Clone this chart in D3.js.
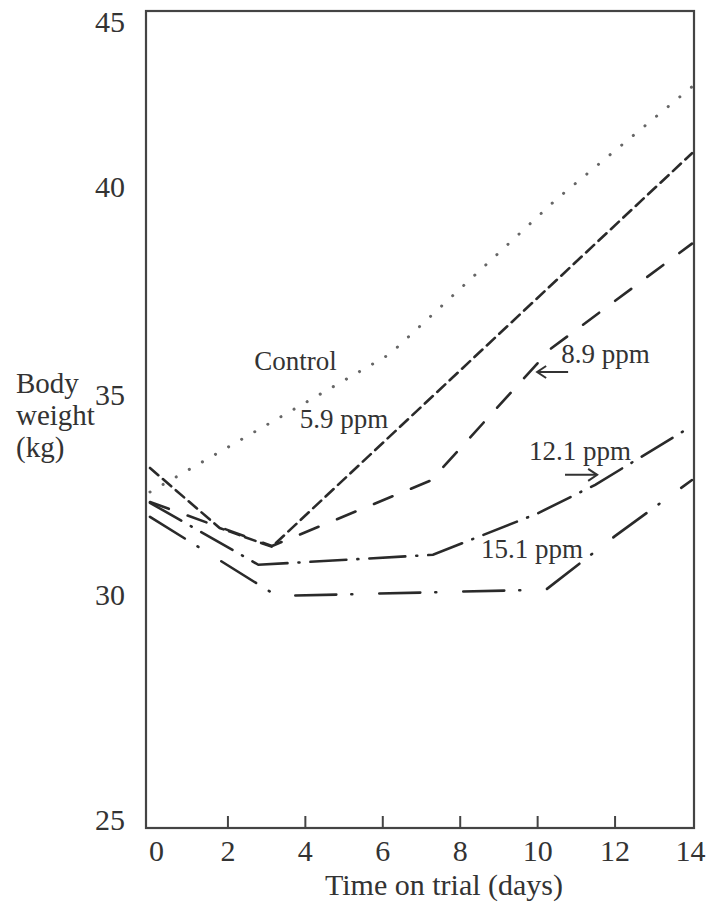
<!DOCTYPE html>
<html>
<head>
<meta charset="utf-8">
<script src="https://cdn.jsdelivr.net/npm/d3@7"></script>
<style>
  body { margin: 0; background: #fff; }
  svg { display: block; }
  text { font-family: "Liberation Serif", "Times New Roman", serif; fill: #333; }
</style>
</head>
<body>
<svg width="711" height="905"></svg>
<script>
// values
var xTicks = [0, 2, 4, 6, 8, 10, 12, 14];
var yTicks = [25, 30, 35, 40, 45];

var controlDays = [0, 6.2, 10.5, 14];
var controlKg   = [33.0, 36.45, 40.32, 43.13];

var ppm59Days = [0, 1.8, 3.15, 14];
var ppm59Kg   = [33.6, 32.1, 31.63, 41.47];

var ppm89Days = [0, 3.15, 7.26, 10.35, 14];
var ppm89Kg   = [32.75, 31.65, 33.29, 36.58, 39.21];

var ppm121Days = [0, 2.8, 7.31, 10.0, 11.5, 14];
var ppm121Kg   = [32.73, 31.18, 31.43, 32.46, 33.18, 34.65];

var ppm151Days = [0, 3.28, 10.23, 12, 14];
var ppm151Kg   = [32.38, 30.4, 30.56, 31.89, 33.3];

var seriesNames = ["Control", "5.9 ppm", "8.9 ppm", "12.1 ppm", "15.1 ppm"];

function pts(days, kg){
	return days.map(function(d, i){ return {day: d, kg: kg[i]}; });
}

var series = [
	{name: seriesNames[0], values: pts(controlDays, controlKg), dash: "0.1 15", width: 3, color: "#666"},
	{name: seriesNames[1], values: pts(ppm59Days, ppm59Kg), dash: "11 6", width: 2.6, color: "#2a2a2a"},
	{name: seriesNames[2], values: pts(ppm89Days, ppm89Kg), dash: "20 20", width: 2.6, color: "#2a2a2a"},
	{name: seriesNames[3], values: pts(ppm121Days, ppm121Kg), dash: "36 11 1 11", width: 2.6, color: "#2a2a2a"},
	{name: seriesNames[4], values: pts(ppm151Days, ppm151Kg), dash: "41 15 1 27", width: 2.6, color: "#2a2a2a"}
];

// label anchors in data units (day, kg)
var labels = [
	{text: seriesNames[0], day: 2.69, kg: 36.05},
	{text: seriesNames[1], day: 3.87, kg: 34.6},
	{text: seriesNames[2], day: 10.62, kg: 36.23},
	{text: seriesNames[3], day: 9.79, kg: 33.8},
	{text: seriesNames[4], day: 8.55, kg: 31.35}
];
var arrows = [
	{from: [10.8, 36.0], to: [10.0, 36.0]},
	{from: [10.72, 33.43], to: [11.55, 33.43]}
];

// hand-lettered tick labels sit a little off the scale
var yNudge = {45: 10, 40: -25, 35: -17, 30: -17, 25: 8};

var frame = {left: 146, right: 694, top: 11, bottom: 828};

var svg = d3.select("svg");

var x = d3.scaleLinear().domain([0, 14]).range([150, 692]);
var y = d3.scaleLinear().domain([25, 45]).range([812, 12]);

// frame
svg.append("rect")
	.attr("x", frame.left).attr("y", frame.top)
	.attr("width", frame.right - frame.left)
	.attr("height", frame.bottom - frame.top)
	.attr("fill", "none")
	.attr("stroke", "#444")
	.attr("stroke-width", 2.2);

// x axis, ticks pointing up
var xAxisG = svg.append("g")
	.attr("transform", "translate(0," + frame.bottom + ")")
	.call(d3.axisBottom(x).tickValues(xTicks).tickSizeInner(-12).tickSizeOuter(0).tickPadding(12));
xAxisG.select(".domain").remove();
xAxisG.selectAll(".tick line")
	.attr("stroke", "#444").attr("stroke-width", 2)
	.filter(function(d){ return d === 0 || d === 14; }).remove();
xAxisG.selectAll(".tick text")
	.attr("fill", "#333")
	.style("font-size", "30px")
	.style("font-family", "Liberation Serif, serif")
	.attr("dx", function(d){ return d === 0 ? 6 : (d === 14 ? -2 : 0); });

// y axis, labels only
var yAxisG = svg.append("g")
	.attr("transform", "translate(" + frame.left + ",0)")
	.call(d3.axisLeft(y).tickValues(yTicks).tickSize(0).tickPadding(21));
yAxisG.select(".domain").remove();
yAxisG.selectAll(".tick text")
	.attr("fill", "#333")
	.style("font-size", "30px")
	.style("font-family", "Liberation Serif, serif")
	.attr("y", d => yNudge[d]);

// axis titles
svg.append("text")
	.attr("x", (frame.left + frame.right) / 2 + 24)
	.attr("y", 895)
	.attr("text-anchor", "middle")
	.style("font-size", "30px")
	.text("Time on trial (days)");

var yt = svg.append("text").style("font-size", "29px");
["Body", "weight", "(kg)"].forEach(function(s, i){
	yt.append("tspan").attr("x", 16).attr("y", 393 + i * 32).text(s);
});

// lines
var line = d3.line().x(d => x(d.day)).y(d => y(d.kg));

svg.selectAll("path.series")
	.data(series)
	.enter()
	.append("path")
	.attr("class", "series")
	.attr("d", d => line(d.values))
	.attr("fill", "none")
	.attr("stroke", d => d.color)
	.attr("stroke-width", d => d.width)
	.attr("stroke-dasharray", d => d.dash)
	.attr("stroke-linecap", "round");

// series labels
svg.selectAll("text.lab")
	.data(labels)
	.enter()
	.append("text")
	.attr("class", "lab")
	.attr("x", d => x(d.day))
	.attr("y", d => y(d.kg))
	.style("font-size", "27px")
	.text(d => d.text);

// arrows
arrows.forEach(function(a){
	var x1 = x(a.from[0]), y1 = y(a.from[1]), x2 = x(a.to[0]), y2 = y(a.to[1]);
	var dir = x2 > x1 ? 1 : -1;
	svg.append("line")
		.attr("x1", x1).attr("y1", y1).attr("x2", x2).attr("y2", y2)
		.attr("stroke", "#333").attr("stroke-width", 2);
	svg.append("path")
		.attr("d", "M" + (x2 - dir * 9) + "," + (y2 - 6) + "L" + x2 + "," + y2 + "L" + (x2 - dir * 9) + "," + (y2 + 6))
		.attr("fill", "none").attr("stroke", "#333").attr("stroke-width", 2);
});
</script>
</body>
</html>
